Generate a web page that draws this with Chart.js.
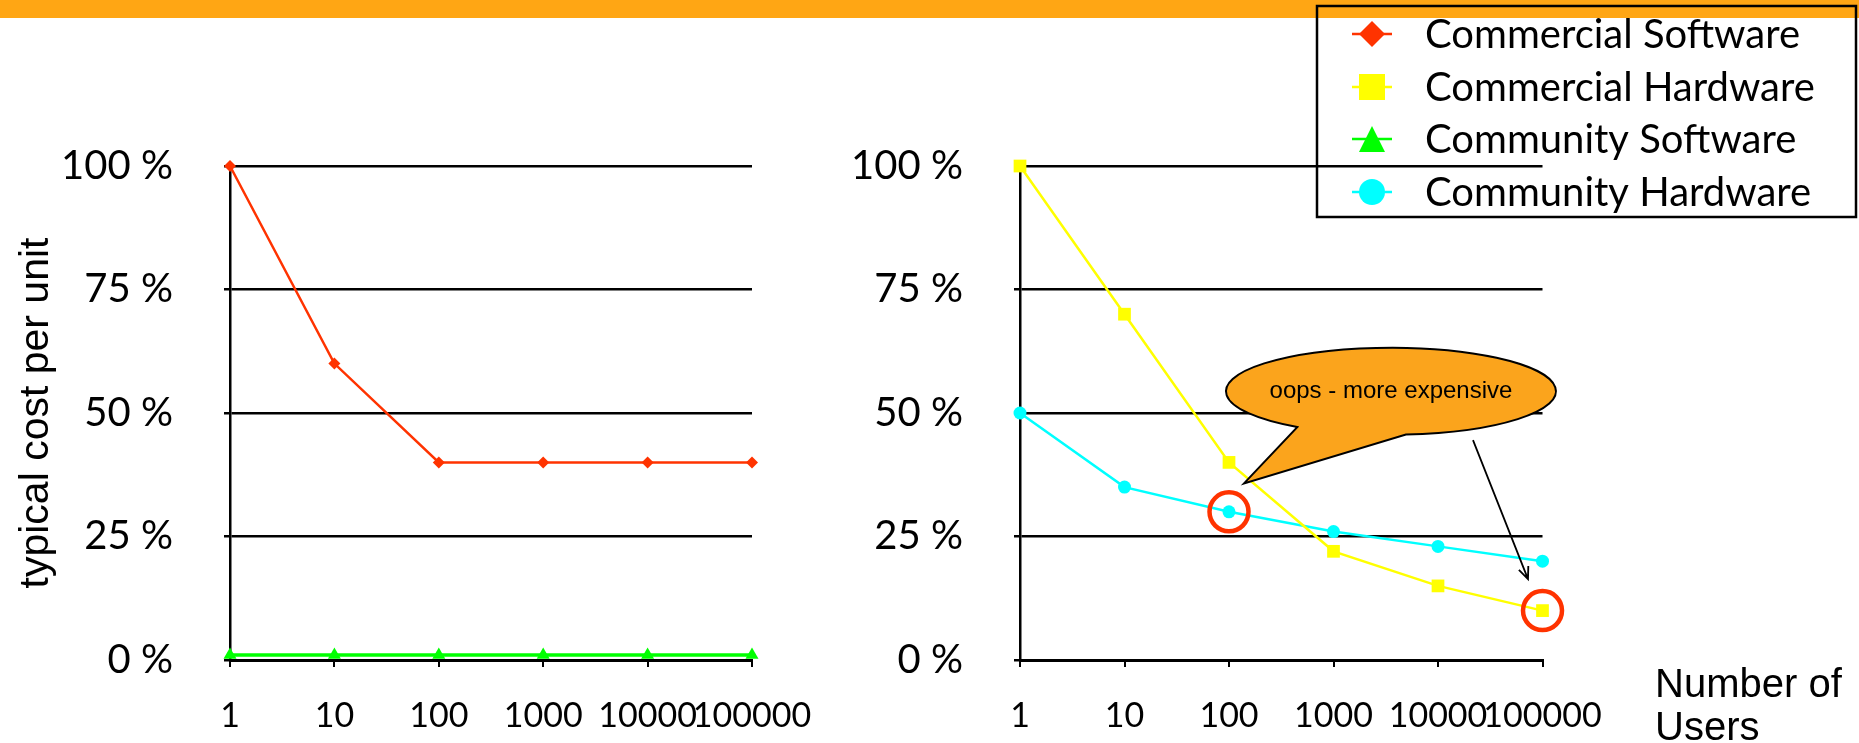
<!DOCTYPE html>
<html>
<head>
<meta charset="utf-8">
<script src="https://cdn.jsdelivr.net/npm/chart.js@4.4.0/dist/chart.umd.min.js"></script>
<style>
  body { margin: 0; width: 1859px; height: 743px; overflow: hidden; background: #fff; position: relative; }
  #band { position: absolute; left: 0; top: 0; width: 1859px; height: 18px; background: #FFA614; }
  .box { position: absolute; top: 0; height: 743px; }
  #leftBox { left: 0; width: 900px; }
  #rightBox { left: 800px; width: 1059px; }
</style>
</head>
<body>
<div id="band"></div>
<div class="box" id="leftBox"><canvas id="leftChart"></canvas></div>
<div class="box" id="rightBox"><canvas id="rightChart"></canvas></div>
<script>
// values (percent of the 1-user cost)
const userCounts = ['1', '10', '100', '1000', '10000', '100000'];
const percentTicks = [0, 25, 50, 75, 100];
const commercialSoftware = [100, 60, 40, 40, 40, 40];
const communitySoftware = [1, 1, 1, 1, 1, 1];
const commercialHardware = [100, 70, 40, 22, 15, 10];
const communityHardware = [50, 35, 30, 26, 23, 20];

const seriesNames = ['Commercial Software', 'Commercial Hardware', 'Community Software', 'Community Hardware'];
const seriesColors = ['#FF3300', '#FFFF00', '#00FF00', '#00FFFF'];
const seriesMarkers = ['rectRot', 'rect', 'triangle', 'circle'];
const markerSizes = [6, 9, 7.5, 6.5];

const yTitle = 'typical cost per unit';
const xTitle = ['Number of', 'Users'];
const calloutText = 'oops - more expensive';

Chart.defaults.font.family = 'Lato';
Chart.defaults.color = '#000';

function series(i, values) {
  return {
    label: seriesNames[i],
    data: values,
    borderColor: seriesColors[i],
    backgroundColor: seriesColors[i],
    borderWidth: i === 2 ? 3.5 : 2.5,
    pointStyle: seriesMarkers[i],
    pointRadius: markerSizes[i],
    pointBorderWidth: 0,
    tension: 0,
    clip: false
  };
}

function scalesFor(axisWidth, withTitle) {
  return {
    x: {
      offset: false,
      grid: { drawOnChartArea: false, tickLength: 7, color: '#000', lineWidth: 2 },
      border: { display: true, color: '#000', width: 3 },
      ticks: { font: { size: 34 }, padding: 29, autoSkip: false, maxRotation: 0, minRotation: 0 },
      afterFit: s => { s.height = 83; }
    },
    y: {
      min: 0,
      max: 100,
      afterBuildTicks: s => { s.ticks = percentTicks.map(v => ({ value: v })); },
      grid: { color: '#000', lineWidth: 2.5, tickLength: 6 },
      border: { display: true, color: '#000', width: 2.5 },
      ticks: { font: { size: 40 }, padding: 51, callback: v => v + ' %' },
      title: {
        display: withTitle, text: yTitle, color: '#000',
        font: { family: 'Liberation Sans', size: 41 },
        padding: { top: 12, bottom: 0 }
      },
      afterFit: s => { s.width = axisWidth; }
    }
  };
}

const baseOptions = {
  responsive: true,
  maintainAspectRatio: false,
  animation: false,
  events: [],
  plugins: { legend: { display: false }, tooltip: { enabled: false } }
};

new Chart(document.getElementById('leftChart'), {
  type: 'line',
  data: {
    labels: userCounts,
    datasets: [series(0, commercialSoftware), series(2, communitySoftware)]
  },
  options: Object.assign({}, baseOptions, {
    layout: { padding: { top: 166, right: 148, left: 0, bottom: 0 } },
    scales: scalesFor(230, true)
  })
});

// right chart: callout, circles, arrow, legend and the users label
const rightShift = 800;
const notes = {
  id: 'notes',
  afterDatasetsDraw(chart) {
    const ctx = chart.ctx;
    const xs = chart.scales.x, ys = chart.scales.y;
    const at = (i, v) => [xs.getPixelForValue(i), ys.getPixelForValue(v)];
    ctx.save();

    // speech bubble
    const cx = xs.getPixelForValue(3.55), cy = ys.getPixelForValue(54.4);
    const [hx, hy] = at(2, commercialHardware[2]);
    ctx.beginPath();
    ctx.ellipse(cx, cy, 165, 43.5, 0, 1.48, 2.175, true);
    ctx.lineTo(hx + 15, hy + 21);
    ctx.closePath();
    ctx.fillStyle = '#FBA41C';
    ctx.fill();
    ctx.strokeStyle = '#000';
    ctx.lineWidth = 2;
    ctx.stroke();
    ctx.fillStyle = '#000';
    ctx.font = '24px "Liberation Sans"';
    ctx.textAlign = 'center';
    ctx.textBaseline = 'middle';
    ctx.fillText(calloutText, cx, cy);

    // red rings
    ctx.strokeStyle = '#FF3300';
    ctx.lineWidth = 4.5;
    [at(2, communityHardware[2]), at(5, commercialHardware[5])].forEach(([x, y]) => {
      ctx.beginPath();
      ctx.arc(x, y, 19.5, 0, Math.PI * 2);
      ctx.stroke();
    });

    // arrow to the last hardware point
    const [ex, ey] = at(5, commercialHardware[5]);
    const x0 = ex - 69.5, y0 = ey - 170.5, x1 = ex - 14.5, y1 = ey - 31.5;
    const ang = Math.atan2(y1 - y0, x1 - x0);
    ctx.strokeStyle = '#000';
    ctx.lineWidth = 1.8;
    ctx.beginPath();
    ctx.moveTo(x0, y0);
    ctx.lineTo(x1, y1);
    ctx.moveTo(x1 - 13 * Math.cos(ang - 0.4), y1 - 13 * Math.sin(ang - 0.4));
    ctx.lineTo(x1, y1);
    ctx.lineTo(x1 - 13 * Math.cos(ang + 0.4), y1 - 13 * Math.sin(ang + 0.4));
    ctx.stroke();
    ctx.restore();
  },
  afterDraw(chart) {
    const ctx = chart.ctx;
    ctx.save();
    // legend box
    ctx.strokeStyle = '#000';
    ctx.lineWidth = 2.5;
    ctx.strokeRect(1317 - rightShift, 6, 539, 211);
    const rows = [34, 87, 139, 192];
    const mx = 1372 - rightShift;
    seriesNames.forEach((name, i) => {
      const y = rows[i];
      ctx.strokeStyle = seriesColors[i];
      ctx.fillStyle = seriesColors[i];
      ctx.lineWidth = 2.5;
      ctx.beginPath();
      ctx.moveTo(mx - 20, y);
      ctx.lineTo(mx + 20, y);
      ctx.stroke();
      const s = 13;
      ctx.beginPath();
      if (seriesMarkers[i] === 'rectRot') {
        ctx.moveTo(mx, y - s); ctx.lineTo(mx + s, y); ctx.lineTo(mx, y + s); ctx.lineTo(mx - s, y);
      } else if (seriesMarkers[i] === 'rect') {
        ctx.rect(mx - s, y - s, 2 * s, 2 * s);
      } else if (seriesMarkers[i] === 'triangle') {
        ctx.moveTo(mx, y - s); ctx.lineTo(mx + s, y + s); ctx.lineTo(mx - s, y + s);
      } else {
        ctx.arc(mx, y, s, 0, Math.PI * 2);
      }
      ctx.closePath();
      ctx.fill();
      ctx.fillStyle = '#000';
      ctx.font = '40px Lato';
      ctx.textAlign = 'left';
      ctx.textBaseline = 'alphabetic';
      ctx.fillText(name, 1425 - rightShift, y + 14);
    });
    // axis caption at the bottom right
    ctx.font = '40px "Liberation Sans"';
    ctx.fillStyle = '#000';
    ctx.fillText(xTitle[0], 1655 - rightShift, 697);
    ctx.fillText(xTitle[1], 1655 - rightShift, 740);
    ctx.restore();
  }
};

new Chart(document.getElementById('rightChart'), {
  type: 'line',
  data: {
    labels: userCounts,
    datasets: [series(1, commercialHardware), series(3, communityHardware)]
  },
  options: Object.assign({}, baseOptions, {
    layout: { padding: { top: 166, right: 316.5, left: 0, bottom: 0 } },
    scales: scalesFor(220, false)
  }),
  plugins: [notes]
});
</script>
</body>
</html>
